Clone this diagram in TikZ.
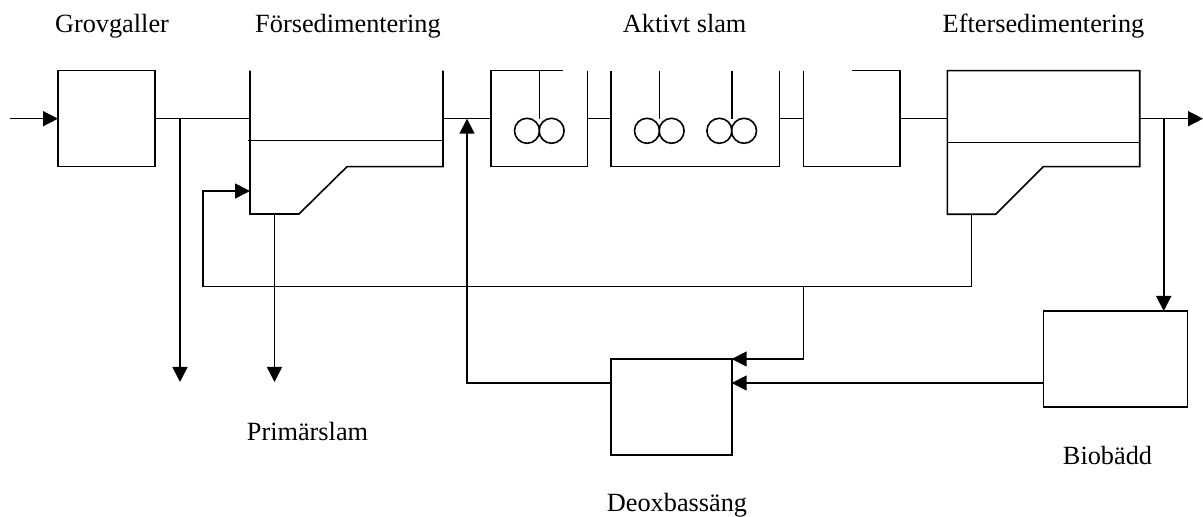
\documentclass[tikz,border=0pt]{standalone}
\usepackage{fontspec}
\setmainfont{Liberation Serif}
\usetikzlibrary{arrows.meta}

\begin{document}
\begin{tikzpicture}[
  x=0.5pt, y=-0.5pt, line width=0.8pt,
  unit/.style={rectangle, draw, inner sep=0pt, outer sep=0pt,
               minimum width=48.5pt, minimum height=48pt},
  tank/.style={rectangle, draw=none, inner sep=0pt, outer sep=0pt,
               minimum height=48pt},
  lbl/.style={font=\fontsize{13.15pt}{15pt}\selectfont, anchor=base, inner sep=0pt},
  arr/.style={-{Triangle[length=7.5pt, width=7.5pt]}}
]
\useasboundingbox (0,0) rectangle (1203,517);

% Grovgaller
\node[unit] (grov) at (106.5,118.7) {};

% Forsedimentering (outline drawn below)
\node[tank, minimum width=96.5pt] (fsed) at (346.5,118.7) {};

% Aktivt slam basins
\node[tank, minimum width=48.3pt] (akt1) at (539,118.7) {};
\node[tank, minimum width=84.15pt] (akt2) at (695.15,118.7) {};
\node[tank, minimum width=48.35pt] (akt3) at (851.65,118.7) {};

% Eftersedimentering
\node[tank, minimum width=96.2pt] (esed) at (1043.5,118.7) {};

% Deoxbassang and Biobadd
\node[unit, minimum width=60.5pt] (deox) at (671.2,407) {};
\node[unit, minimum width=72pt] (bio) at (1115.3,359) {};

% Tank outlines
\draw (fsed.north east) -- (fsed.south east) -- ++(-96,0) -- ++(-48,47.3)
  -- ++(-24.5,0) coordinate (fsedout) -- ++(-24.5,0)
  -- ++(0,-23) coordinate (fsedin) -- (fsed.north west);
\draw ([xshift=-1pt, yshift=-35pt]fsed.north west) -- ([yshift=-35pt]fsed.north east);

\draw ([xshift=36pt]akt1.north west) -- (akt1.north west) -- (akt1.south west)
  -- (akt1.south east) -- (akt1.north east);
\draw (akt2.north west) -- (akt2.south west) -- (akt2.south east) -- (akt2.north east);
\draw (akt3.north) -- (akt3.north east) -- (akt3.south east) -- (akt3.south west)
  -- (akt3.north west);

\draw (esed.south east) -- (esed.north east) -- (esed.north west) -- ++(0,143.6)
  -- ++(24.2,0) coordinate (esedout) -- ++(24.2,0) -- ++(47.6,-47.6) -- cycle;
\draw ([yshift=-36pt]esed.north west) -- ([yshift=-36pt]esed.north east);

% Mixers
\coordinate (mix1) at (539.3,70.7);
\coordinate (mix2) at (659.3,70.7);
\coordinate (mix3) at (731.7,70.7);
\foreach \m in {mix1,mix2,mix3} {
  \draw (\m) -- ++(0,48.3);
  \draw (\m) ++(-12.3,60.1) circle[radius=12.5] (\m) ++(12.3,60.1) circle[radius=12.5];
}

% Free ends
\coordinate (in) at (10,118.7);
\coordinate (out) at (1203,118.7);
\coordinate (screen) at (180,382);
\coordinate (prim) at (274.5,382);
\coordinate (ret) at (203,286.7);
\coordinate (tap) at (1163.7,118.7);
\coordinate (back) at (467,118.7);
\coordinate (bioout) at ([yshift=-12pt]bio.west);

% Main line
\draw[arr] (in) -- (grov.west);
\draw (grov.east) -- (fsed.west);
\draw (fsed.east) -- (akt1.west);
\draw (akt1.east) -- (akt2.west);
\draw (akt2.east) -- (akt3.west);
\draw (akt3.east) -- (esed.west);
\draw[arr] (esed.east) -- (out);

% Sludge and return lines
\draw[arr] (screen |- grov.east) -- (screen);
\draw[arr] (fsedout) -- (prim);
\draw[arr] (esedout) |- (ret) |- (fsedin);
\draw[arr] (akt3.west |- ret) |- (deox.north east);
\draw[arr] (tap) -- (tap |- bio.north);
\draw[arr] (bioout) -- (bioout -| deox.east);
\draw[arr] (bioout -| deox.west) -| (back);

% Labels
\node[lbl] (grovlbl) at (112,33) {Grovgaller};
\node[lbl] (fsedlbl) at (348,33) {Försedimentering};
\node[lbl] (aktlbl) at (684.7,33) {Aktivt slam};
\node[lbl] (esedlbl) at (1043.5,33) {Eftersedimentering};
\node[lbl] (primlbl) at (307.5,440.7) {Primärslam};
\node[lbl] (deoxlbl) at (677,511.5) {Deoxbassäng};
\node[lbl] (biolbl) at (1107.5,465) {Biobädd};

\end{tikzpicture}
\end{document}
